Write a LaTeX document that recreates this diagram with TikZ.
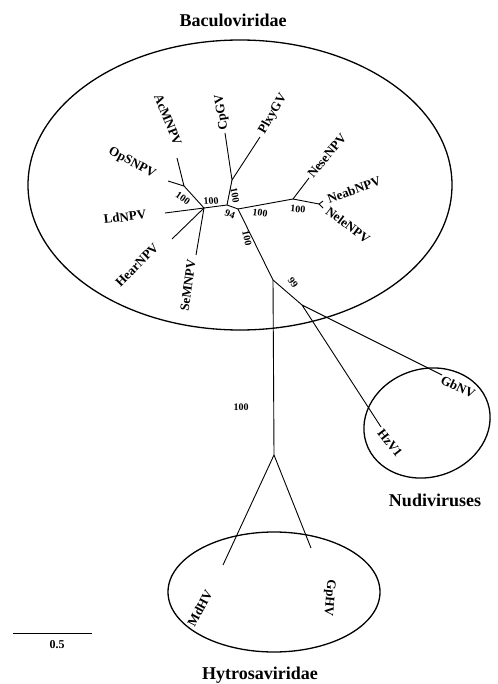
\documentclass[tikz,border=0pt]{standalone}
\usepackage{fontspec}
\setmainfont{Liberation Serif}
\begin{document}
\begin{tikzpicture}[x=1pt,y=-1pt,
  br/.style={line width=0.9pt, line join=round},
  grp/.style={line width=1.3pt},
  taxon/.style={font=\fontsize{13}{13}\selectfont\bfseries, inner sep=0pt},
  boot/.style={font=\fontsize{10}{10}\selectfont\bfseries, inner sep=0pt},
  grouptitle/.style={font=\fontsize{18}{18}\selectfont\bfseries, inner sep=0pt}]
\useasboundingbox (0,0) rectangle (497,684);
\fill[white] (0,0) rectangle (497,684);

% group ellipses
\draw[grp] (240,185) ellipse [x radius=212, y radius=145];
\draw[grp, rotate around={18:(427,423)}] (427,423) ellipse [x radius=64, y radius=54];
\draw[grp] (274,592) ellipse [x radius=106, y radius=60];

% tree coordinates
\coordinate (n1) at (204,208);
\coordinate (ja) at (184,186);
\coordinate (tOps) at (168,181);
\coordinate (tAcm) at (177,158);
\coordinate (tLd) at (165,213);
\coordinate (tHear) at (172,239);
\coordinate (tSem) at (196,255);
\coordinate (n2) at (227,205);
\coordinate (jg) at (232,180);
\coordinate (tCp) at (225,133);
\coordinate (tPlx) at (260,137);
\coordinate (n3) at (238,209);
\coordinate (jn) at (293,199);
\coordinate (tNese) at (309,178);
\coordinate (jn2) at (319,204);
\coordinate (tNeab) at (323,201);
\coordinate (tNele) at (323,208);
\coordinate (n5) at (273,280);
\coordinate (n7) at (302,305);
\coordinate (tGb) at (442,375);
\coordinate (tHz) at (381,427);
\coordinate (n6) at (274,455);
\coordinate (tMd) at (223,565);
\coordinate (tGp) at (311,548);

% branches
\draw[br] (tOps) -- (ja) -- (tAcm);
\draw[br] (ja) -- (n1);
\draw[br] (tLd) -- (n1);
\draw[br] (tHear) -- (n1);
\draw[br] (tSem) -- (n1);
\draw[br] (n1) -- (n2) -- (n3);
\draw[br] (n2) -- (jg);
\draw[br] (tCp) -- (jg) -- (tPlx);
\draw[br] (n3) -- (jn) -- (tNese);
\draw[br] (jn) -- (jn2);
\draw[br] (tNeab) -- (jn2) -- (tNele);
\draw[br] (n3) -- (n5) -- (n6);
\draw[br] (n5) -- (n7);
\draw[br] (tGb) -- (n7) -- (tHz);
\draw[br] (tMd) -- (n6) -- (tGp);

% taxon labels
\node[taxon, rotate=-68] (lAcm) at (168,120) {AcMNPV};
\node[taxon, rotate=98] (lCp) at (222,112) {CpGV};
\node[taxon, rotate=60] (lPlx) at (273,114) {PlxyGV};
\node[taxon, rotate=-28] (lOps) at (132,163) {OpSNPV};
\node[taxon, rotate=7] (lLd) at (125,217) {LdNPV};
\node[taxon, rotate=45] (lHear) at (137,265) {HearNPV};
\node[taxon, rotate=82] (lSem) at (188,285) {SeMNPV};
\node[taxon, rotate=50] (lNese) at (327,156) {NeseNPV};
\node[taxon, rotate=20] (lNeab) at (354,190) {NeabNPV};
\node[taxon, rotate=-37] (lNele) at (348,225) {NeleNPV};
\node[taxon, rotate=-25] (lGb) at (458,387) {GbNV};
\node[taxon, rotate=-52] (lHz) at (390,443) {HzV1};
\node[taxon, rotate=62] (lMd) at (200,608) {MdHV};
\node[taxon, rotate=-95] (lGp) at (329,598) {GpHV};

% bootstrap values
\node[boot, rotate=-35] (b1) at (183,198) {100};
\node[boot, rotate=5] (b2) at (211,201) {100};
\node[boot, rotate=-80] (b3) at (235,195) {100};
\node[boot, rotate=-20] (b4) at (230,214) {94};
\node[boot, rotate=-8] (b5) at (260,213) {100};
\node[boot, rotate=-78] (b6) at (247,238) {100};
\node[boot, rotate=-5] (b7) at (298,209) {100};
\node[boot, rotate=-55] (b8) at (293,283) {99};
\node[boot] (b9) at (241,407) {100};

% group titles
\node[grouptitle] (tBac) at (233,20) {Baculoviridae};
\node[grouptitle] (tNud) at (435,500) {Nudiviruses};
\node[grouptitle] (tHyt) at (260,675) {Hytrosaviridae};

% scale bar
\coordinate (s1) at (13,633);
\coordinate (s2) at (92,633);
\draw[br] (s1) -- (s2);
\node[font=\fontsize{12}{12}\selectfont\bfseries, inner sep=0pt] (sl) at (57,645) {0.5};
\end{tikzpicture}
\end{document}
